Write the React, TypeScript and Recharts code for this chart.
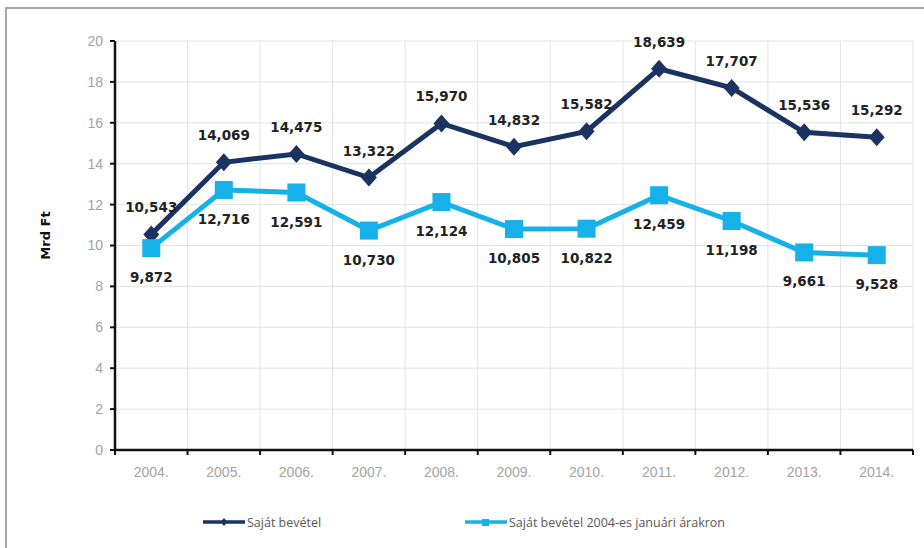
import { LineChart, Line, XAxis, YAxis, CartesianGrid, LabelList } from 'recharts';

const years = ['2004.', '2005.', '2006.', '2007.', '2008.', '2009.', '2010.', '2011.', '2012.', '2013.', '2014.'];
const sajatBevetel = [10.543, 14.069, 14.475, 13.322, 15.97, 14.832, 15.582, 18.639, 17.707, 15.536, 15.292];
const arakonBevetel = [9.872, 12.716, 12.591, 10.73, 12.124, 10.805, 10.822, 12.459, 11.198, 9.661, 9.528];
const yTicks = [0, 2, 4, 6, 8, 10, 12, 14, 16, 18, 20];
const seriesNames = ['Saját bevétel', 'Saját bevétel 2004-es januári árakron'];
const yTitle = 'Mrd Ft';

const W = 924;
const H = 548;
const LEFT = 115;
const RIGHT = 11;
const TOP = 41;
const BOTTOM = 98;
const PLOT_W = W - LEFT - RIGHT;
const HALF = PLOT_W / years.length / 2;

const DARK = '#1b3361';
const LIGHT = '#17b1ea';
const AXIS_FONT = '"Liberation Sans", Arial, sans-serif';
const LABEL_FONT = '"DejaVu Sans", Verdana, sans-serif';

const data = years.map((year, i) => ({ year, nominal: sajatBevetel[i], real: arakonBevetel[i] }));

const fmt = (v: number) => v.toFixed(3).replace('.', ',');

function XTick(props: any) {
  const { x, y, payload, index } = props;
  return (
    <g>
      <text x={x} y={y + 27} textAnchor="middle" fill="#a3a3a3" fontSize={14} fontFamily={AXIS_FONT}>
        {payload.value}
      </text>
      <line x1={x - HALF} y1={y} x2={x - HALF} y2={y + 5} stroke="#111" strokeWidth={2} />
      {index === years.length - 1 && (
        <line x1={x + HALF} y1={y} x2={x + HALF} y2={y + 5} stroke="#111" strokeWidth={2} />
      )}
    </g>
  );
}

function Diamond(props: any) {
  const { cx, cy } = props;
  if (cx == null || cy == null) return null;
  return <path d={`M${cx},${cy - 9}L${cx + 8},${cy}L${cx},${cy + 9}L${cx - 8},${cy}Z`} fill={DARK} />;
}

function Square(props: any) {
  const { cx, cy } = props;
  if (cx == null || cy == null) return null;
  return <rect x={cx - 9} y={cy - 9} width={18} height={18} fill={LIGHT} />;
}

function labelAbove(p: any) {
  return (
    <text x={p.x} y={p.y - 22} textAnchor="middle" fill="#222" fontSize={13.5} fontWeight="bold" fontFamily={LABEL_FONT}>
      {fmt(Number(p.value))}
    </text>
  );
}

function labelBelow(p: any) {
  return (
    <text x={p.x} y={p.y + 34} textAnchor="middle" fill="#222" fontSize={13.5} fontWeight="bold" fontFamily={LABEL_FONT}>
      {fmt(Number(p.value))}
    </text>
  );
}

function YTitle(p: any) {
  const vb = p.viewBox || {};
  const x = 45;
  const y = (vb.y ?? TOP) + (vb.height ?? 409) / 2 - 10;
  return (
    <text
      x={x}
      y={y}
      transform={`rotate(-90 ${x} ${y})`}
      textAnchor="middle"
      dominantBaseline="central"
      fill="#111"
      fontSize={13}
      fontWeight="bold"
      fontFamily={LABEL_FONT}
    >
      {yTitle}
    </text>
  );
}

function LegendItem({ left, color, square, text }: { left: number; color: string; square: boolean; text: string }) {
  return (
    <div style={{ position: 'absolute', left, top: 513, display: 'flex', alignItems: 'center', height: 18 }}>
      <svg width={43} height={16}>
        <line x1={0} y1={8} x2={42} y2={8} stroke={color} strokeWidth={3.5} />
        {square ? (
          <rect x={17} y={5} width={7} height={7} fill={color} />
        ) : (
          <path d="M21,4L24.5,8L21,12L17.5,8Z" fill={color} />
        )}
      </svg>
      <span style={{ fontFamily: '"Open Sans", sans-serif', fontSize: 12.5, color: '#595959', marginLeft: 1 }}>{text}</span>
    </div>
  );
}

export default function App() {
  return (
    <div style={{ position: 'fixed', left: 0, top: 0, width: W, height: H, background: '#fff', overflow: 'hidden' }}>
      <div
        style={{
          position: 'absolute',
          left: 5,
          top: 7,
          width: W,
          height: H,
          borderTop: '2px solid #a8a8a8',
          borderLeft: '2px solid #a8a8a8',
        }}
      />
      <div style={{ position: 'absolute', left: 0, top: 0 }}>
        <LineChart width={W} height={H} data={data} margin={{ top: TOP, right: RIGHT, left: 0, bottom: 0 }}>
          <CartesianGrid
            stroke="#e3e3e3"
            strokeWidth={1}
            verticalCoordinatesGenerator={({ offset }: any) =>
              years.map((_, i) => offset.left + ((i + 1) * offset.width) / years.length)
            }
          />
          <XAxis
            dataKey="year"
            height={BOTTOM}
            interval={0}
            padding={{ left: HALF, right: HALF }}
            axisLine={{ stroke: '#111', strokeWidth: 2.5 }}
            tickLine={false}
            tickSize={0}
            tickMargin={0}
            tick={<XTick />}
          />
          <YAxis
            width={LEFT}
            domain={[0, 20]}
            ticks={yTicks}
            interval={0}
            axisLine={{ stroke: '#111', strokeWidth: 2.5 }}
            tickLine={{ stroke: '#111', strokeWidth: 2 }}
            tickSize={5}
            tickMargin={7}
            tick={{ fill: '#a3a3a3', fontSize: 14, fontFamily: AXIS_FONT }}
            label={<YTitle />}
          />
          <Line
            dataKey="nominal"
            name={seriesNames[0]}
            stroke={DARK}
            strokeWidth={5}
            dot={<Diamond />}
            activeDot={false}
            isAnimationActive={false}
          >
            <LabelList dataKey="nominal" content={labelAbove} />
          </Line>
          <Line
            dataKey="real"
            name={seriesNames[1]}
            stroke={LIGHT}
            strokeWidth={5}
            dot={<Square />}
            activeDot={false}
            isAnimationActive={false}
          >
            <LabelList dataKey="real" content={labelBelow} />
          </Line>
        </LineChart>
      </div>
      <LegendItem left={203} color={DARK} square={false} text={seriesNames[0]} />
      <LegendItem left={465} color={LIGHT} square={true} text={seriesNames[1]} />
    </div>
  );
}
